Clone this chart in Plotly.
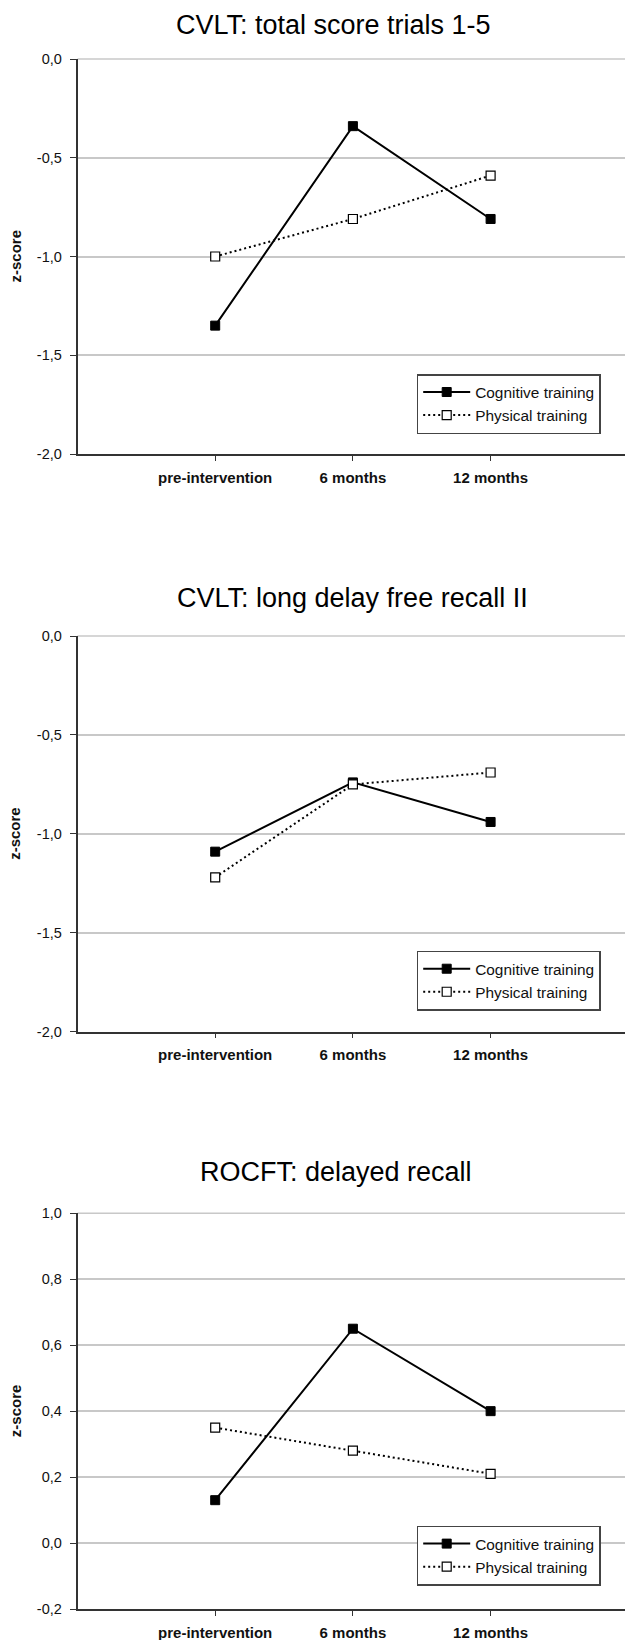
import plotly.graph_objects as go

# ---- data ----
timepoints = ["pre-intervention", "6 months", "12 months"]
series_names = ["Cognitive training", "Physical training"]

titles = ["CVLT: total score trials 1-5", "CVLT: long delay free recall II", "ROCFT: delayed recall"]

cvlt_total_cognitive = [-1.35, -0.34, -0.81]
cvlt_total_physical = [-1.00, -0.81, -0.59]

cvlt_delay_cognitive = [-1.09, -0.74, -0.94]
cvlt_delay_physical = [-1.22, -0.75, -0.69]

rocft_cognitive = [0.13, 0.65, 0.40]
rocft_physical = [0.35, 0.28, 0.21]

cvlt_tick_values = [-2.0, -1.5, -1.0, -0.5, 0.0]
cvlt_tick_labels = ["-2,0", "-1,5", "-1,0", "-0,5", "0,0"]
rocft_tick_values = [-0.2, 0.0, 0.2, 0.4, 0.6, 0.8, 1.0]
rocft_tick_labels = ["-0,2", "0,0", "0,2", "0,4", "0,6", "0,8", "1,0"]

y_ranges = [[-2.0, 0.0], [-2.0, 0.0], [-0.2, 1.0]]
y_ticks = [(cvlt_tick_values, cvlt_tick_labels),
           (cvlt_tick_values, cvlt_tick_labels),
           (rocft_tick_values, rocft_tick_labels)]

panels = [
    (cvlt_total_cognitive, cvlt_total_physical),
    (cvlt_delay_cognitive, cvlt_delay_physical),
    (rocft_cognitive, rocft_physical),
]

# ---- layout geometry (pixels) ----
W, H = 625, 1640
plot_tops = [59, 636, 1213.3]
plot_bottoms = [454, 1031.7, 1609]
title_y = [25, 598, 1172]
title_x = [333, 352, 336]
legend_tops = [374, 950.7, 1525.6]
legend_left = 416.7

FONT = "Liberation Sans, Arial, sans-serif"
AXIS_COL = "#333333"
GRID_COL = "#c8c8c8"

fig = go.Figure()
layout = dict(
    template="none",
    width=W, height=H,
    margin=dict(l=0, r=0, t=0, b=0, pad=0, autoexpand=False),
    paper_bgcolor="white", plot_bgcolor="white",
    showlegend=True,
    font=dict(family=FONT, color="#111111"),
)
annotations = []
shapes = []

for i, (cog, phys) in enumerate(panels):
    k = "" if i == 0 else str(i + 1)
    xa, ya = "x" + k, "y" + k
    leg = "legend" + k
    fig.add_trace(go.Scatter(
        x=timepoints, y=cog, name=series_names[0], mode="lines+markers",
        xaxis=xa, yaxis=ya, legend=leg, cliponaxis=False,
        line=dict(color="black", width=2),
        marker=dict(symbol="square", size=9, color="black", line=dict(color="black", width=1)),
    ))
    fig.add_trace(go.Scatter(
        x=timepoints, y=phys, name=series_names[1], mode="lines+markers",
        xaxis=xa, yaxis=ya, legend=leg, cliponaxis=False,
        line=dict(color="black", width=2, dash="2px,3px"),
        marker=dict(symbol="square", size=9, color="white", line=dict(color="black", width=1.2)),
    ))
    y0 = 1 - plot_bottoms[i] / H
    y1 = 1 - plot_tops[i] / H
    layout["xaxis" + k] = dict(
        domain=[77.5 / W, 1.0], anchor=ya, type="category",
        categoryorder="array", categoryarray=timepoints,
        range=[-1, 2.976], showgrid=False, zeroline=False, automargin=False,
        showline=True, linecolor=AXIS_COL, linewidth=1.5,
        ticks="outside", ticklen=5, tickwidth=1.2, tickcolor=AXIS_COL,
        tickfont=dict(family=FONT, size=15, weight="bold", color="#111111"),
        ticklabelstandoff=4,
    )
    tv, tt = y_ticks[i]
    layout["yaxis" + k] = dict(
        domain=[y0, y1], anchor=xa, range=y_ranges[i],
        tickmode="array", tickvals=tv, ticktext=tt,
        showgrid=True, gridcolor=GRID_COL, gridwidth=1.5, automargin=False,
        zeroline=False, showline=True, linecolor=AXIS_COL, linewidth=1.5,
        ticks="outside", ticklen=6, tickwidth=1.2, tickcolor=AXIS_COL,
        tickfont=dict(family=FONT, size=14.5, color="#111111"),
        ticklabelstandoff=5,
    )
    # top gridline (hidden by plotly at the axis edge)
    shapes.append(dict(
        type="line", xref=xa + " domain", yref=ya + " domain",
        x0=0, x1=1, y0=1, y1=1, layer="below",
        line=dict(color=GRID_COL, width=1.5),
    ))
    layout[leg] = dict(
        x=legend_left / W, y=1 - legend_tops[i] / H, xanchor="left", yanchor="top",
        bgcolor="white", bordercolor="#444444", borderwidth=1.5,
        font=dict(family=FONT, size=15.4, color="#111111"),
        tracegroupgap=0, itemwidth=47,
    )
    annotations.append(dict(
        text=titles[i], x=title_x[i] / W, y=1 - title_y[i] / H,
        xref="paper", yref="paper", xanchor="center", yanchor="middle",
        showarrow=False, font=dict(family=FONT, size=27, color="black"),
    ))
    annotations.append(dict(
        text="z-score", x=15 / W, y=(y0 + y1) / 2,
        xref="paper", yref="paper", xanchor="center", yanchor="middle",
        textangle=-90, showarrow=False,
        font=dict(family=FONT, size=15, weight="bold", color="#111111"),
    ))

layout["annotations"] = annotations
layout["shapes"] = shapes
fig.update_layout(**layout)
fig.write_html(
    "out.html",
    config={"displayModeBar": False},
    post_script="document.body.style.margin='0';",
)
